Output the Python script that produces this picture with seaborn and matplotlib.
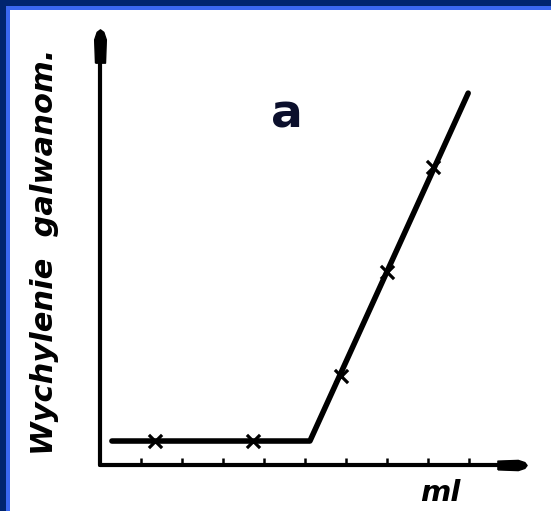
import matplotlib
matplotlib.use("Agg")
import matplotlib.pyplot as plt
import seaborn as sns
import pandas as pd
from matplotlib.patches import Rectangle

# ---- data (ml units, arbitrary deflection units) ----
line_x = [0.29, 5.12, 8.98]
line_y = [0.585, 0.585, 9.07]
cross_x = [1.34, 3.73, 5.88, 7.00, 8.12]
cross_y = [0.585, 0.585, 2.17, 4.71, 7.27]
tick_x = [1, 2, 3, 4, 5, 6, 7, 8, 9]
ylabel = "Wychylenie  galwanom."
xlabel = "ml"
panel = "a"

sns.set_style("white")
W, H = 551, 511
fig = plt.figure(figsize=(W / 100, H / 100), dpi=100)
fig.patch.set_facecolor("white")

# axes placed so that origin is at pixel (100, 465)
left, right, top, bottom = 100, 512, 46, 465
ax = fig.add_axes([left / W, (H - bottom) / H, (right - left) / W, (bottom - top) / H])
ax.set_facecolor("none")
unit = 41.0
ax.set_xlim(0, (right - left) / unit)
ax.set_ylim(0, (bottom - top) / unit)

df_line = pd.DataFrame({"x": line_x, "y": line_y})
df_cross = pd.DataFrame({"x": cross_x, "y": cross_y})
sns.lineplot(data=df_line, x="x", y="y", ax=ax, color="black", lw=4,
             sort=False, estimator=None, solid_capstyle="round", solid_joinstyle="round")
sns.scatterplot(data=df_cross, x="x", y="y", ax=ax, marker="x", s=90,
                color="black", linewidth=2.3, zorder=5)

for s in ["top", "right"]:
    ax.spines[s].set_visible(False)
for s in ["left", "bottom"]:
    ax.spines[s].set_linewidth(3)
    ax.spines[s].set_color("black")
    ax.spines[s].set_capstyle("round")

ax.set_xticks(tick_x)
ax.set_xticklabels([])
ax.set_yticks([])
ax.tick_params(axis="x", direction="in", length=5, width=1.8, color="black", bottom=True)
ax.set_xlabel("")
ax.set_ylabel("")

# arrowheads
arrow_r = [(-1, -0.3), (0.4, -0.35), (0.85, -0.2), (1, 0), (0.85, 0.2),
           (0.4, 0.35), (-1, 0.3), (-1, -0.3)]
arrow_u = [(y, x) for x, y in arrow_r]
ax.plot([1.0], [0], marker=arrow_r, markersize=21, color="black",
        transform=ax.get_yaxis_transform(), clip_on=False)
ax.plot([0], [1.0], marker=arrow_u, markersize=24, color="black",
        transform=ax.get_xaxis_transform(), clip_on=False)

# texts
fig.text(45 / W, 1 - 252 / H, ylabel, rotation=90, ha="center", va="center",
         fontsize=22, fontweight="bold", fontstyle="italic",
         family=["DejaVu Sans"], color="black")
fig.text(440 / W, 1 - 493 / H, xlabel, ha="center", va="center",
         fontsize=21, fontweight="bold", fontstyle="italic",
         family=["DejaVu Sans"], color="black")
fig.text(287 / W, 1 - 115 / H, panel, ha="center", va="center",
         fontsize=34, fontweight="bold", family=["DejaVu Sans"], color="#0b0f2c")

# frame bands (top and left)
fig.patches.append(Rectangle((0, 1 - 6 / H), 1, 6 / H, transform=fig.transFigure,
                             facecolor="#00256e", edgecolor="none", zorder=10))
fig.patches.append(Rectangle((0, 1 - 10 / H), 1, 4 / H, transform=fig.transFigure,
                             facecolor="#3a68f0", edgecolor="none", zorder=9))
fig.patches.append(Rectangle((0, 0), 6 / W, 1, transform=fig.transFigure,
                             facecolor="#00256e", edgecolor="none", zorder=10))
fig.patches.append(Rectangle((6 / W, 0), 4 / W, 1 - 6 / H, transform=fig.transFigure,
                             facecolor="#3a68f0", edgecolor="none", zorder=9))

fig.savefig("out.png", dpi=100, facecolor="white")
